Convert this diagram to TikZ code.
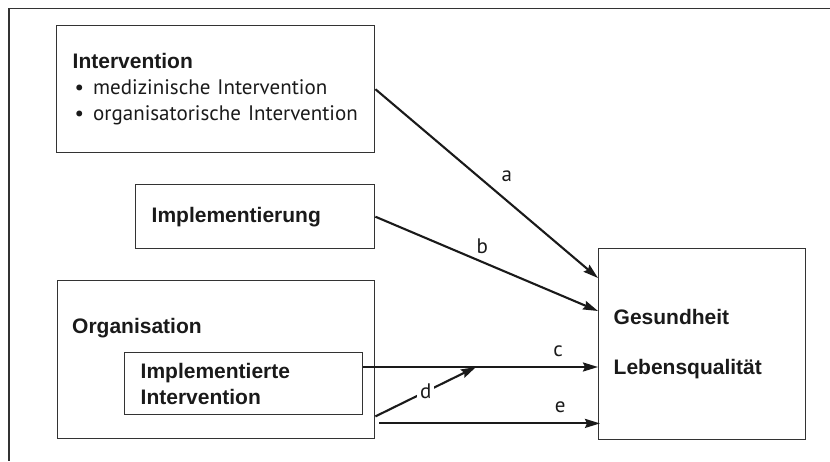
\documentclass[tikz,border=0pt]{standalone}
\usepackage{fontspec}
\setmainfont{Liberation Sans}
\newfontfamily\labelfont{PT Sans}
\usetikzlibrary{arrows.meta,calc}
\definecolor{frame}{HTML}{333333}
\definecolor{ink}{HTML}{1A1A1A}
\begin{document}
\begin{tikzpicture}[x=1pt,y=-1pt,>={Stealth[length=15pt,width=9pt,inset=2pt]},
  box/.style={draw=frame,line width=1.4pt,anchor=north west,inner ysep=0pt,inner xsep=16pt,align=left,
    font=\fontsize{21}{26}\selectfont\bfseries,text=ink},
  head/.style={font=\fontsize{21}{26}\selectfont\bfseries,text=ink,inner sep=0pt},
  arrow/.style={->,line width=2.1pt,color=ink},
  tag/.style={font=\labelfont\fontsize{21}{25}\selectfont,text=ink,inner sep=3pt}]
  \useasboundingbox (0,0) rectangle (830,461);
  \draw[frame,line width=1.4pt] (830,8.5) -- (9,8.5) -- (9,461);
  \node[box,text width=286pt,minimum height=127pt] (interv) at (56,25)
    {Intervention\\
     {\labelfont\mdseries\hspace*{2pt}\textbullet\hspace{9pt}medizinische Intervention}\\
     {\labelfont\mdseries\hspace*{2pt}\textbullet\hspace{9pt}organisatorische Intervention}};
  \node[box,text width=207pt,minimum height=64pt] (impl) at (135,184) {Implementierung};
  \node[box,minimum width=317pt,minimum height=158pt] (orga) at (57,280) {};
  \node[head,anchor=west] (orgatitle) at (72,328) {Organisation};
  \node[box,text width=206pt,minimum height=62pt] (implint) at (124,352) {Implementierte\\Intervention};
  \node[box,text width=177pt,minimum height=191pt,inner xsep=15pt] (health) at (598,248)
    {Gesundheit\\[24pt]Lebensqualität};
  % Pfeile a--e
  \draw[arrow] (interv.east) -- ([yshift=-30pt]health.north west) node[tag,pos=.59,yshift=24pt] {a};
  \draw[arrow] (impl.east) -- ([yshift=-63pt]health.north west) node[tag,pos=.48,yshift=16pt] {b};
  \coordinate (cstart) at ([yshift=-15pt]implint.north east);
  \coordinate (dtip) at ($(cstart)!.48!(cstart -| health.west)$);
  \draw[arrow] (cstart) -- (cstart -| health.west) node[tag,pos=.83,yshift=16pt] {c};
  \draw[arrow] ([yshift=23pt]orga.south east) -- (dtip) node[tag,midway,fill=white] {d};
  \coordinate (estart) at ([xshift=4pt,yshift=16pt]orga.south east);
  \draw[arrow] (estart) -- ([xshift=2pt]estart -| health.west) node[tag,pos=.82,yshift=16pt] {e};
\end{tikzpicture}
\end{document}
